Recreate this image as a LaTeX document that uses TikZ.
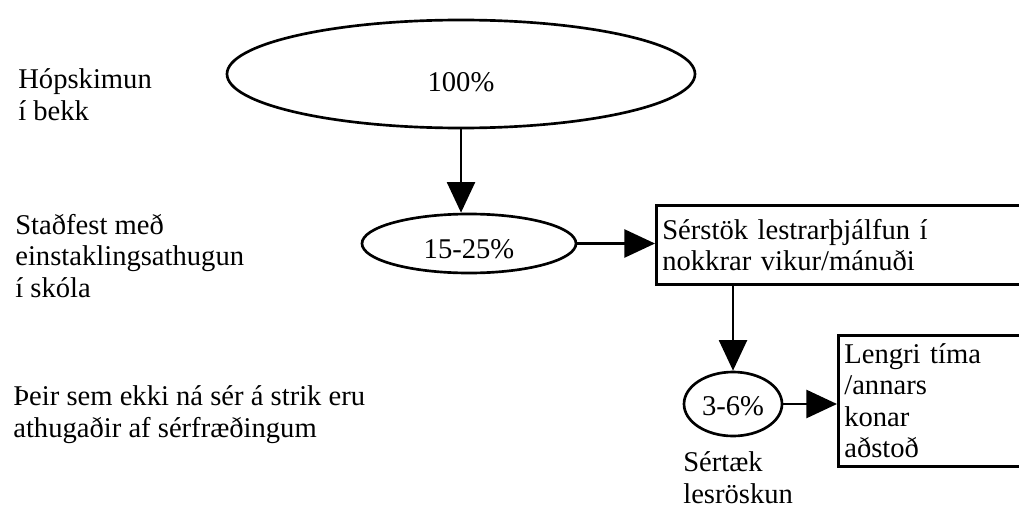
\documentclass[tikz,border=0pt]{standalone}
\usepackage{fontspec}
\setmainfont{Liberation Serif}
\usepackage{tikz}
\usetikzlibrary{arrows.meta, shapes, positioning}

\begin{document}
\begin{tikzpicture}[x=0.75pt,y=-0.75pt,line width=2pt,
 font=\fontsize{21.45}{23.6}\selectfont,
 pct node/.style={ellipse,draw,inner sep=0pt,text depth=0pt},
 box node/.style={rectangle,draw,anchor=north west,align=left,inner xsep=4.5pt},
 label node/.style={anchor=base west,align=left,inner sep=0pt},
 arr/.style={-{Triangle[length=23pt,width=21pt]}}]
  \useasboundingbox (0,0) rectangle (1019,510);
  \clip (0,0) rectangle (1019,510);

  % labels on the left (placed by their last line)
  \node[label node] (l1) at (17,120) {Hópskimun\\í bekk};
  \node[label node] (l2) at (14,297) {Staðfest með\\einstaklingsathugun\\í skóla};
  \node[label node] (l3) at (12,437) {Þeir sem ekki ná sér á strik eru\\athugaðir af sérfræðingum};

  % the flow
  \node[pct node,minimum width=351pt,minimum height=81pt,text height=25.5pt] (p100) at (461,74) {100\%};
  \node[pct node,minimum width=160.5pt,minimum height=44.25pt,text height=21.75pt] (p15) at (469,243.5) {15-25\%};
  \node[box node,minimum width=303.75pt,minimum height=59.25pt,text width=294.75pt] (box1) at (655,204)
    {Sérstök lestrarþjálfun í\\nokkrar vikur/mánuði};
  \node[pct node,minimum width=73.5pt,minimum height=48pt,text height=16.5pt] (p36) at (733,404) {3-6\%};
  \node[box node,minimum width=167.25pt,minimum height=98.25pt,text width=158.25pt] (box2) at (837,334)
    {Lengri tíma\\/annars\\konar\\aðstoð};
  \node[label node] (l4) at (682,503) {Sértæk\\lesröskun};

  \draw[arr] (p100.south) -- (p100.south |- p15.north);
  \draw[arr] (p15.east) -- (p15.east -| box1.west);
  \draw[arr] (p36 |- box1.south) -- (p36.north);
  \draw[arr] (p36.east) -- (p36.east -| box2.west);
\end{tikzpicture}
\end{document}
